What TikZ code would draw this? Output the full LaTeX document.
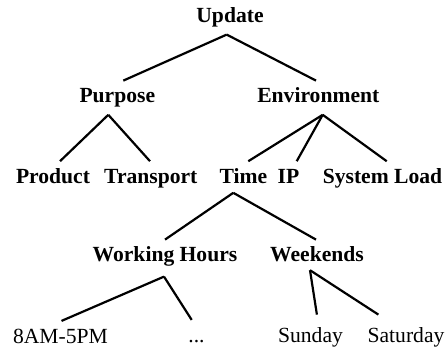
\documentclass[tikz,border=0pt]{standalone}
\usepackage{fontspec}
\setmainfont{Liberation Serif}
\usetikzlibrary{positioning}

\begin{document}
\begin{tikzpicture}[x=0.5pt,y=-0.5pt,line width=1.1pt,
                    main node/.style={font=\fontsize{10.8}{13}\selectfont\bfseries},
                    leaf node/.style={font=\fontsize{10.8}{13}\selectfont}]
  \tikzstyle{every node}=[anchor=base,inner xsep=0pt,inner ysep=3.5pt,
                          text height=7pt,text depth=2pt,text=black]
  \useasboundingbox (0,0) rectangle (448,350);

  \node[main node] (up)    at (230,22.5)   {Update};
  \node[main node] (pur)   at (117.3,102.7) {Purpose};
  \node[main node] (env)   at (318.3,102.7) {Environment};
  \node[main node] (prod)  at (53,183.3)   {Product};
  \node[main node] (trans) at (150.8,183.3) {Transport};
  \node[main node] (time)  at (243.3,183.3) {Time};
  \node[main node] (ip)    at (288.5,183.3) {IP};
  \node[main node] (load)  at (382.5,183.3) {System Load};
  \node[main node] (work)  at (165,261.7)  {Working Hours};
  \node[main node] (wkend) at (317,261.7)  {Weekends};
  \node[leaf node] (am)    at (60.5,343)   {8AM-5PM};
  \node[leaf node] (dots)  at (196.5,342)  {...};
  \node[leaf node] (sun)   at (310.5,342.7) {Sunday};
  \node[leaf node] (sat)   at (406,342.7)  {Saturday};

  \path[draw]
        ([xshift=-1.65pt]up.south)              edge ([xshift=3pt]pur.north)
        ([xshift=-1.65pt]up.south)              edge ([xshift=-1.15pt]env.north)
        ([xshift=-4.5pt]pur.south)              edge ([xshift=3.5pt]prod.north)
        ([xshift=-4.5pt]pur.south)              edge ([xshift=-0.4pt]trans.north)
        ([xshift=2.2pt]env.south)               edge ([xshift=2.5pt]time.north)
        ([xshift=2.2pt]env.south)               edge ([xshift=4.1pt]ip.north)
        ([xshift=2.2pt]env.south)               edge ([xshift=2.1pt]load.north)
        ([xshift=-5pt,yshift=1.3pt]time.south)  edge (work.north)
        ([xshift=-5pt,yshift=1.3pt]time.south)  edge ([xshift=-0.5pt]wkend.north)
        ([xshift=-0.5pt,yshift=-1.4pt]work.south) edge ([xshift=0.5pt]am.north)
        ([xshift=-0.5pt,yshift=-1.4pt]work.south) edge ([xshift=-2.4pt]dots.north)
        ([xshift=-3.5pt,yshift=1.8pt]wkend.south) edge ([xshift=3.2pt,yshift=3pt]sun.north)
        ([xshift=-3.5pt,yshift=1.8pt]wkend.south) edge ([xshift=-13.8pt,yshift=3pt]sat.north);

\end{tikzpicture}
\end{document}
